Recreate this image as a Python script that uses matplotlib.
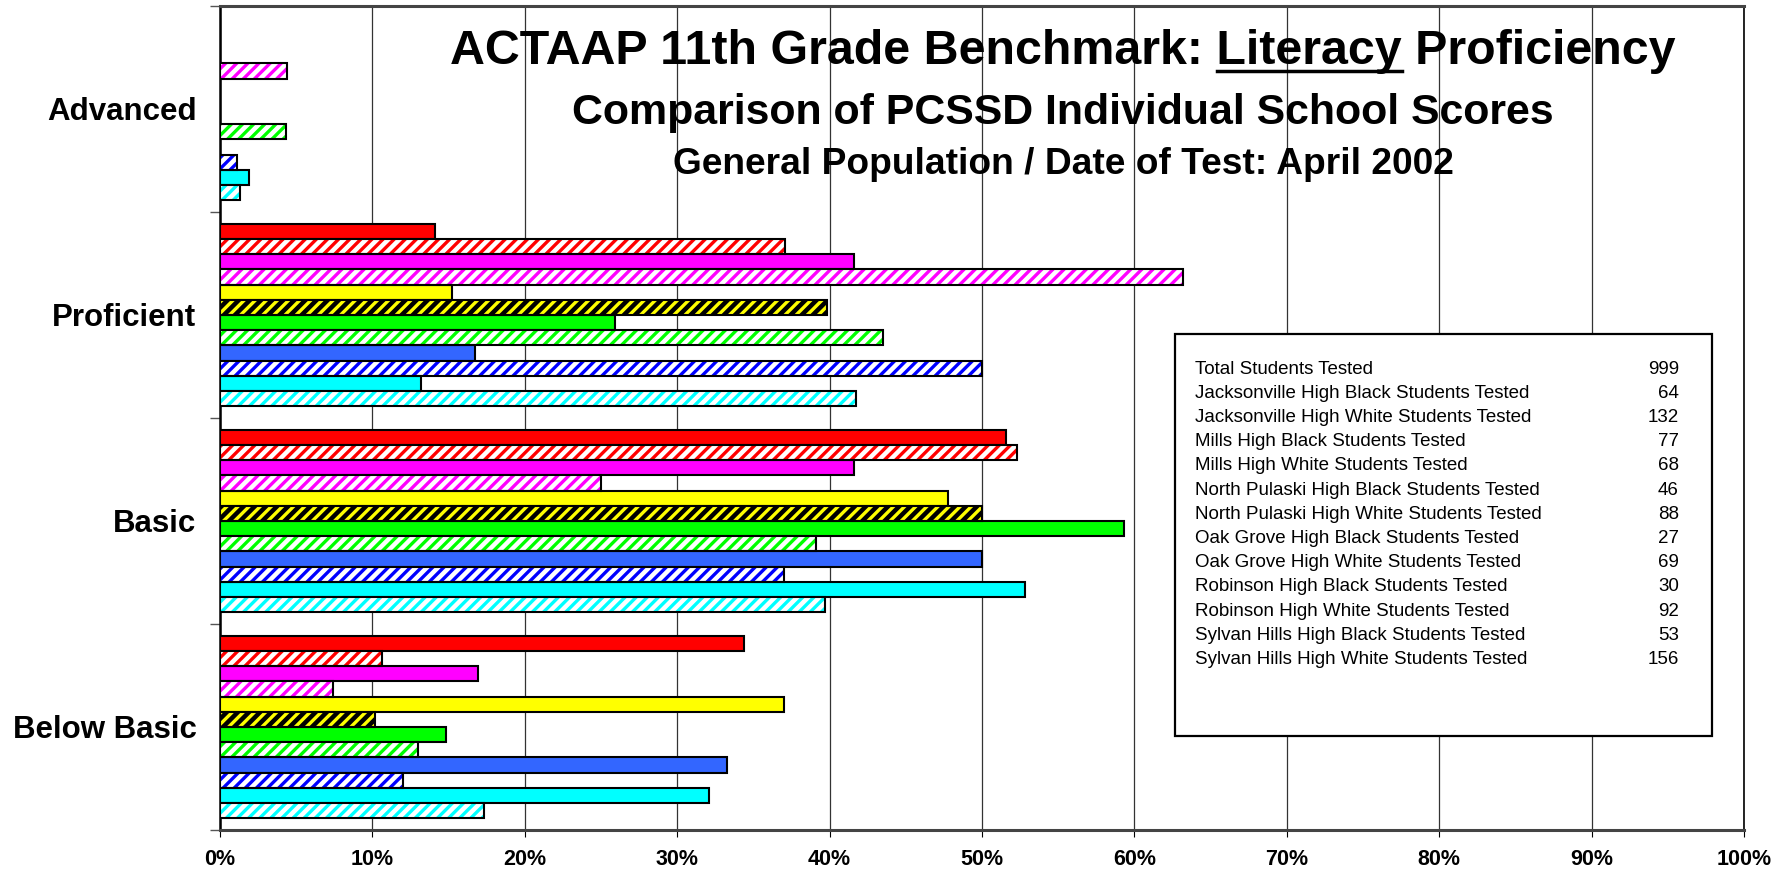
import numpy as np
import matplotlib
matplotlib.use("Agg")
import matplotlib.pyplot as plt
from matplotlib.lines import Line2D
from matplotlib.patches import Rectangle

plt.rcParams['font.family'] = ['Liberation Sans', 'DejaVu Sans']
plt.rcParams['hatch.linewidth'] = 2.4

categories = ["Advanced", "Proficient", "Basic", "Below Basic"]

# one list per school/group, values in % for Advanced, Proficient, Basic, Below Basic
jville_black = [0.0, 14.1, 51.6, 34.4]
jville_white = [0.0, 37.1, 52.3, 10.6]
mills_black = [0.0, 41.6, 41.6, 16.9]
mills_white = [4.4, 63.2, 25.0, 7.4]
npulaski_black = [0.0, 15.2, 47.8, 37.0]
npulaski_white = [0.0, 39.8, 50.0, 10.2]
oakgrove_black = [0.0, 25.9, 59.3, 14.8]
oakgrove_white = [4.3, 43.5, 39.1, 13.0]
robinson_black = [0.0, 16.7, 50.0, 33.3]
robinson_white = [1.1, 50.0, 37.0, 12.0]
sylvan_black = [1.9, 13.2, 52.8, 32.1]
sylvan_white = [1.3, 41.7, 39.7, 17.3]

series = [jville_black, jville_white, mills_black, mills_white,
          npulaski_black, npulaski_white, oakgrove_black, oakgrove_white,
          robinson_black, robinson_white, sylvan_black, sylvan_white]

legend_labels = ["Total Students Tested",
                 "Jacksonville High Black Students Tested",
                 "Jacksonville High White Students Tested",
                 "Mills High Black Students Tested",
                 "Mills High White Students Tested",
                 "North Pulaski High Black Students Tested",
                 "North Pulaski High White Students Tested",
                 "Oak Grove High Black Students Tested",
                 "Oak Grove High White Students Tested",
                 "Robinson High Black Students Tested",
                 "Robinson High White Students Tested",
                 "Sylvan Hills High Black Students Tested",
                 "Sylvan Hills High White Students Tested"]
legend_counts = [999, 64, 132, 77, 68, 46, 88, 27, 69, 30, 92, 53, 156]

# (face, hatch colour or None) for each series
styles = [("#FF0000", None), ("white", "#FF0000"),
          ("#FF00FF", None), ("white", "#FF00FF"),
          ("#FFFF00", None), ("black", "#FFFF00"),
          ("#00FF00", None), ("white", "#00FF00"),
          ("#3366FF", None), ("white", "#0000FF"),
          ("#00FFFF", None), ("white", "#00FFFF")]

W, H = 1790, 875
fig = plt.figure(figsize=(W / 100, H / 100), dpi=100)
ax = fig.add_axes([220 / W, 1 - 830 / H, (1744 - 220) / W, (830 - 6) / H])

n = len(series)
bar_h = 0.886 / n
ypos = np.arange(len(categories))
for i, vals in enumerate(series):
    y = ypos - 0.443 + (i + 0.5) * bar_h
    face, hatch_col = styles[i]
    x = np.array(vals) / 100
    if hatch_col is None:
        ax.barh(y, x, height=bar_h, color=face, edgecolor="black", linewidth=1.5, zorder=3)
    else:
        # hatch takes the edge colour, so draw the black outline as a second layer
        ax.barh(y, x, height=bar_h, color=face, edgecolor=hatch_col, hatch="///",
                linewidth=0, zorder=3)
        ax.barh(y, x, height=bar_h, color="none", edgecolor="black", linewidth=1.5, zorder=4)

ax.set_xlim(0, 1)
ax.set_ylim(3.5, -0.5)
ax.set_xticks(np.arange(0, 1.01, 0.1))
ax.set_xticklabels([f"{int(round(v * 100))}%" for v in np.arange(0, 1.01, 0.1)],
                   fontsize=15.5, fontweight="bold")
ax.tick_params(axis="x", direction="out", length=5, width=0.8, pad=9)
ax.set_yticks(ypos)
ax.set_yticklabels(categories, fontsize=22.5, fontweight="bold")
ax.set_yticks(np.arange(-0.5, 3.6, 1), minor=True)
ax.tick_params(axis="y", which="major", length=0, pad=17)
ax.tick_params(axis="y", which="minor", length=7, width=1, color="#555555")
ax.grid(axis="x", color="#333333", linewidth=0.9, zorder=0)
ax.set_axisbelow(True)
for side in ["top", "bottom"]:
    ax.spines[side].set_linewidth(2.2)
    ax.spines[side].set_color("#444444")
ax.spines["left"].set_linewidth(1.8)
ax.spines["right"].set_linewidth(1.2)

# titles
cx = 1063 / W
t1 = "ACTAAP 11th Grade Benchmark: Literacy Proficiency"
title1 = fig.text(cx, 1 - 51 / H, t1, ha="center", va="center", fontsize=34.8, fontweight="bold")
fig.text(cx, 1 - 113 / H, "Comparison of PCSSD Individual School Scores",
         ha="center", va="center", fontsize=30.9, fontweight="bold")
fig.text(cx, 1 - 164 / H, "General Population / Date of Test: April 2002",
         ha="center", va="center", fontsize=26.7, fontweight="bold")

# underline "Literacy"
renderer = fig.canvas.get_renderer()
full_bb = title1.get_window_extent(renderer)
tmp = fig.text(0, 0, "ACTAAP 11th Grade Benchmark: Literacy", fontsize=34.8, fontweight="bold")
upto = tmp.get_window_extent(renderer).width
tmp.set_text("Literacy")
word = tmp.get_window_extent(renderer).width
tmp.remove()
x_end = full_bb.x0 + upto
x_start = x_end - word
uy = 1 - 71 / H
fig.add_artist(Line2D([x_start / W, x_end / W], [uy, uy], color="black", linewidth=2.5,
                      transform=fig.transFigure))

# text box with counts
fig.add_artist(Rectangle((1175 / W, 1 - 736 / H), (1712 - 1175) / W, (736 - 334) / H,
                         transform=fig.transFigure, facecolor="white", edgecolor="black",
                         linewidth=1.6, zorder=5))
for k, (lab, cnt) in enumerate(zip(legend_labels, legend_counts)):
    yy = 1 - (369 + k * 24.2) / H
    fig.text(1195 / W, yy, lab, ha="left", va="center", fontsize=13.5, zorder=6)
    fig.text(1679 / W, yy, str(cnt), ha="right", va="center", fontsize=13.5, zorder=6)

fig.savefig("out.png", dpi=100)
